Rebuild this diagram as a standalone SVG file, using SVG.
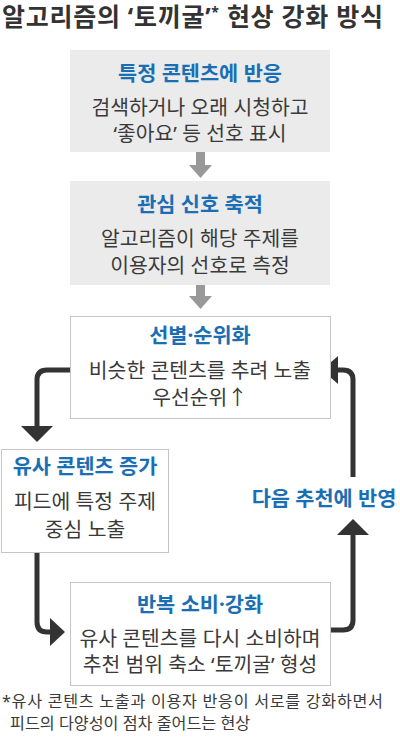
<svg xmlns="http://www.w3.org/2000/svg" width="400" height="740" viewBox="0 0 400 740">
<style>
text{font-family:"Noto Sans","Noto Sans CJK KR",sans-serif;}
.head{font-size:25px;font-weight:bold;fill:#333;}
.t{font-size:20.8px;font-weight:bold;fill:#1a6fb4;text-anchor:middle;}
.b{font-size:20.4px;fill:#3a3a3a;text-anchor:middle;}
.note{font-size:16.2px;fill:#3a3a3a;}
.gbox{fill:#ebebeb;}
.wbox{fill:#fff;stroke:#c4c4c4;stroke-width:1;}
.con{fill:none;stroke:#333;stroke-width:5;stroke-linejoin:round;}
.ah{fill:#333;}
.ga{fill:#999;}
</style>
<text class="head" x="2" y="26" textLength="381" lengthAdjust="spacing">알고리즘의 ‘토끼굴’<tspan font-size="14" baseline-shift="9">*</tspan> 현상 강화 방식</text>

<g id="connectors">
<rect class="ga" x="196" y="152" width="9" height="14"/>
<polygon class="ga" points="189,165 212,165 200.5,178"/>
<rect class="ga" x="196" y="285" width="9" height="12"/>
<polygon class="ga" points="189,296 212,296 200.5,309"/>
<path class="con" d="M70,370 H47 Q37,370 37,380 V428"/>
<polygon class="ah" points="21,426 53,426 37,442"/>
<path class="con" d="M37,552 V622 Q37,632 47,632 H52"/>
<polygon class="ah" points="50,618 50,646 65,632"/>
<path class="con" d="M330,630 H343 Q353,630 353,620 V534"/>
<polygon class="ah" points="337,535 369,535 353,519"/>
<path class="con" d="M353,477 V380 Q353,370 343,370 H336"/>
<polygon class="ah" points="338,356 338,384 322,370"/>
</g>

<g id="n1">
<rect class="gbox" x="70" y="50" width="260" height="102"/>
<text class="t" x="200" y="81">특정 콘텐츠에 반응</text>
<text class="b" x="200" y="115">검색하거나 오래 시청하고</text>
<text class="b" x="200" y="141">‘좋아요’ 등 선호 표시</text>
</g>

<g id="n2">
<rect class="gbox" x="70" y="181" width="260" height="104"/>
<text class="t" x="200" y="212">관심 신호 축적</text>
<text class="b" x="200" y="246">알고리즘이 해당 주제를</text>
<text class="b" x="200" y="273">이용자의 선호로 측정</text>
</g>

<g id="n3">
<rect class="wbox" x="70.5" y="316.5" width="260" height="102"/>
<text class="t" x="200" y="343">선별·순위화</text>
<text class="b" x="200" y="378">비슷한 콘텐츠를 추려 노출</text>
<text class="b" x="200" y="405">우선순위↑</text>
</g>

<g id="n4">
<rect class="wbox" x="1.5" y="449.5" width="167" height="103"/>
<text class="t" x="85" y="474">유사 콘텐츠 증가</text>
<text class="b" x="85" y="509">피드에 특정 주제</text>
<text class="b" x="85" y="537">중심 노출</text>
</g>

<g id="n5">
<rect class="wbox" x="70.5" y="582.5" width="260" height="103"/>
<text class="t" x="200" y="612">반복 소비·강화</text>
<text class="b" x="200" y="646">유사 콘텐츠를 다시 소비하며</text>
<text class="b" x="200" y="672">추천 범위 축소 ‘토끼굴’ 형성</text>
</g>

<g id="n6">
<text class="t" x="324" y="506">다음 추천에 반영</text>
</g>

<text class="note" x="2" y="707" textLength="381" lengthAdjust="spacing">*유사 콘텐츠 노출과 이용자 반응이 서로를 강화하면서</text>
<text class="note" x="10" y="729">피드의 다양성이 점차 줄어드는 현상</text>
</svg>
